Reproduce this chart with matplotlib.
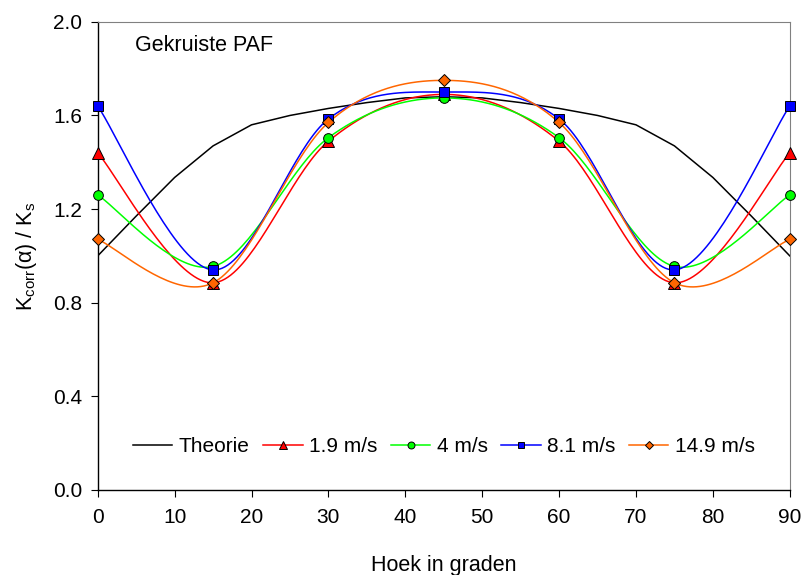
import numpy as np
import matplotlib
matplotlib.use("Agg")
import matplotlib.pyplot as plt

plt.rcParams['font.family'] = ['Liberation Sans', 'DejaVu Sans']
plt.rcParams['mathtext.fontset'] = 'custom'
plt.rcParams['mathtext.rm'] = 'Liberation Sans'
plt.rcParams['mathtext.it'] = 'Liberation Sans:italic'

# theoretical curve
theory_x = [0, 5, 10, 15, 20, 25, 30, 35, 40, 45, 50, 55, 60, 65, 70, 75, 80, 85, 90]
theory_y = [1.00, 1.17, 1.335, 1.47, 1.56, 1.60, 1.63, 1.655, 1.675, 1.68,
            1.675, 1.655, 1.63, 1.60, 1.56, 1.47, 1.335, 1.17, 1.00]

# measured points
angles = [0, 15, 30, 45, 60, 75, 90]
v19 = [1.44, 0.885, 1.49, 1.69, 1.49, 0.885, 1.44]
v4 = [1.26, 0.955, 1.505, 1.675, 1.505, 0.955, 1.26]
v81 = [1.64, 0.94, 1.585, 1.70, 1.585, 0.94, 1.64]
v149 = [1.07, 0.885, 1.57, 1.75, 1.57, 0.885, 1.07]


def smooth(x, y, n=40):
    # Excel-like smoothed line (Bezier through the points)
    x = np.asarray(x, float)
    y = np.asarray(y, float)
    px = np.concatenate([[x[0]], x, [x[-1]]])
    py = np.concatenate([[y[0]], y, [y[-1]]])
    xs, ys = [], []
    for i in range(1, len(px) - 2):
        p0, p1, p2, p3 = (np.array([px[j], py[j]]) for j in (i - 1, i, i + 1, i + 2))
        c1 = p1 + (p2 - p0) / 6
        c2 = p2 - (p3 - p1) / 6
        t = np.linspace(0, 1, n)[:, None]
        b = ((1 - t) ** 3) * p1 + 3 * ((1 - t) ** 2) * t * c1 + 3 * (1 - t) * t ** 2 * c2 + t ** 3 * p2
        xs.extend(b[:, 0])
        ys.extend(b[:, 1])
    return xs, ys


fig = plt.figure(figsize=(8.01, 5.75), dpi=100)
ax = fig.add_axes([0.122, 0.148, 0.864, 0.814])

ax.plot(theory_x, theory_y, color='black', lw=1.1, label='Theorie')

series = [
    (v19, '#ff0000', '^', '1.9 m/s', 8),
    (v4, '#00ff00', 'o', '4 m/s', 7),
    (v81, '#0000ff', 's', '8.1 m/s', 7),
    (v149, '#ff6600', 'D', '14.9 m/s', 6),
]
for vals, col, mk, lab, ms in series:
    sx, sy = smooth(angles, vals)
    ax.plot(sx, sy, color=col, lw=1.1)
    ax.plot(angles, vals, linestyle='none', marker=mk, ms=ms, mfc=col,
            mec='black', mew=0.7, clip_on=False, zorder=5)
    ax.plot([], [], color=col, lw=1.1, marker=mk, ms=ms - 2, mfc=col,
            mec='black', mew=0.7, label=lab)

ax.set_xlim(0, 90)
ax.set_ylim(0, 2.0)
ax.set_xticks(range(0, 91, 10))
ax.set_yticks([0, 0.4, 0.8, 1.2, 1.6, 2.0])
ax.set_yticklabels(['0.0', '0.4', '0.8', '1.2', '1.6', '2.0'])
ax.tick_params(direction='out', length=5, labelsize=15, width=0.8)
ax.tick_params(axis='x', pad=8)
ax.tick_params(axis='y', pad=6)

for s in ['top', 'right']:
    ax.spines[s].set_color('#808080')
    ax.spines[s].set_linewidth(0.8)
for s in ['left', 'bottom']:
    ax.spines[s].set_color('black')
    ax.spines[s].set_linewidth(1.0)

ax.text(4.9, 1.90, 'Gekruiste PAF', fontsize=15.5, va='center')

ax.set_xlabel('Hoek in graden', fontsize=15.5, labelpad=20)
ax.set_ylabel('K$_{\\rm corr}$(α) / K$_{\\rm s}$', fontsize=15.5, labelpad=10)

handles, labels = ax.get_legend_handles_labels()
ax.legend(handles, labels, loc='center', bbox_to_anchor=(0.5, 0.092), ncol=5,
          frameon=False, fontsize=15, handlelength=1.9, handletextpad=0.3,
          columnspacing=0.65, numpoints=1, borderpad=0)

fig.savefig('out.png', dpi=100)
